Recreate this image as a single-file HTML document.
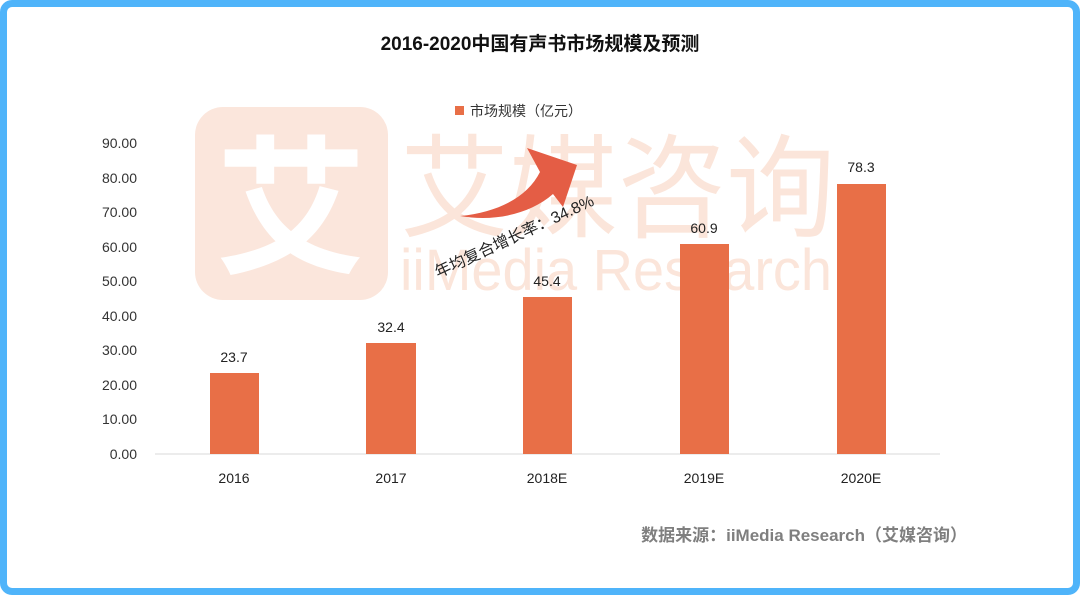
<!DOCTYPE html>
<html><head><meta charset="utf-8"><style>
html,body{margin:0;padding:0;width:1080px;height:595px;overflow:hidden;background:#fff}
.frame{position:absolute;left:0;top:0;width:1080px;height:595px;box-sizing:border-box;border:7px solid #4fb4fa;border-radius:12px;background:#fff}
svg{position:absolute;left:0;top:0}
text{font-family:"Liberation Sans","Noto Sans CJK SC",sans-serif}
</style></head><body>
<div class="frame"></div>
<svg width="1080" height="595">
<rect x="195" y="107" width="193" height="193" rx="28" fill="#fbe6dc"/>
<text x="291" y="262" font-size="150" fill="#fff" text-anchor="middle" font-weight="bold">艾</text>
<text x="400" y="228" font-size="112" fill="#fbe5da" textLength="435" lengthAdjust="spacingAndGlyphs">艾媒咨询</text>
<text x="400" y="290" font-size="58" fill="#fbe5da" textLength="432" lengthAdjust="spacingAndGlyphs">iiMedia Research</text>
<text x="540" y="50" font-size="19" font-weight="bold" text-anchor="middle" fill="#111">2016-2020中国有声书市场规模及预测</text>
<rect x="455" y="106" width="9" height="9" fill="#e86f47"/>
<text x="470" y="116" font-size="14" fill="#333">市场规模（亿元）</text>
<g font-size="14" fill="#333" text-anchor="end">
<text x="137" y="148">90.00</text><text x="137" y="183">80.00</text><text x="137" y="217">70.00</text>
<text x="137" y="252">60.00</text><text x="137" y="286">50.00</text><text x="137" y="321">40.00</text>
<text x="137" y="355">30.00</text><text x="137" y="390">20.00</text><text x="137" y="424">10.00</text>
<text x="137" y="459">0.00</text></g>
<line x1="155" y1="454" x2="940" y2="454" stroke="#d9d9d9"/>
<g fill="#e86f47">
<rect x="210" y="373" width="49" height="81"/>
<rect x="366" y="343" width="50" height="111"/>
<rect x="523" y="297" width="49" height="157"/>
<rect x="680" y="244" width="49" height="210"/>
<rect x="837" y="184" width="49" height="270"/>
</g>
<g font-size="14" fill="#222" text-anchor="middle">
<text x="234" y="362">23.7</text><text x="391" y="332">32.4</text><text x="547" y="286">45.4</text>
<text x="704" y="233">60.9</text><text x="861" y="172">78.3</text>
<text x="234" y="483">2016</text><text x="391" y="483">2017</text><text x="547" y="483">2018E</text>
<text x="704" y="483">2019E</text><text x="861" y="483">2020E</text></g>
<path d="M460 216 C500 212 528 196 540 172 L527 148 L577 165 L563 207 L553 194 C530 214 495 222 460 216 Z" fill="#e45d45"/>
<text x="0" y="0" font-size="16" fill="#222" transform="translate(438 278) rotate(-25)">年均复合增长率：34.8%</text>
<text x="967" y="541" font-size="17" font-weight="bold" fill="#7f7f7f" text-anchor="end">数据来源：iiMedia Research（艾媒咨询）</text>
</svg>
</body></html>
